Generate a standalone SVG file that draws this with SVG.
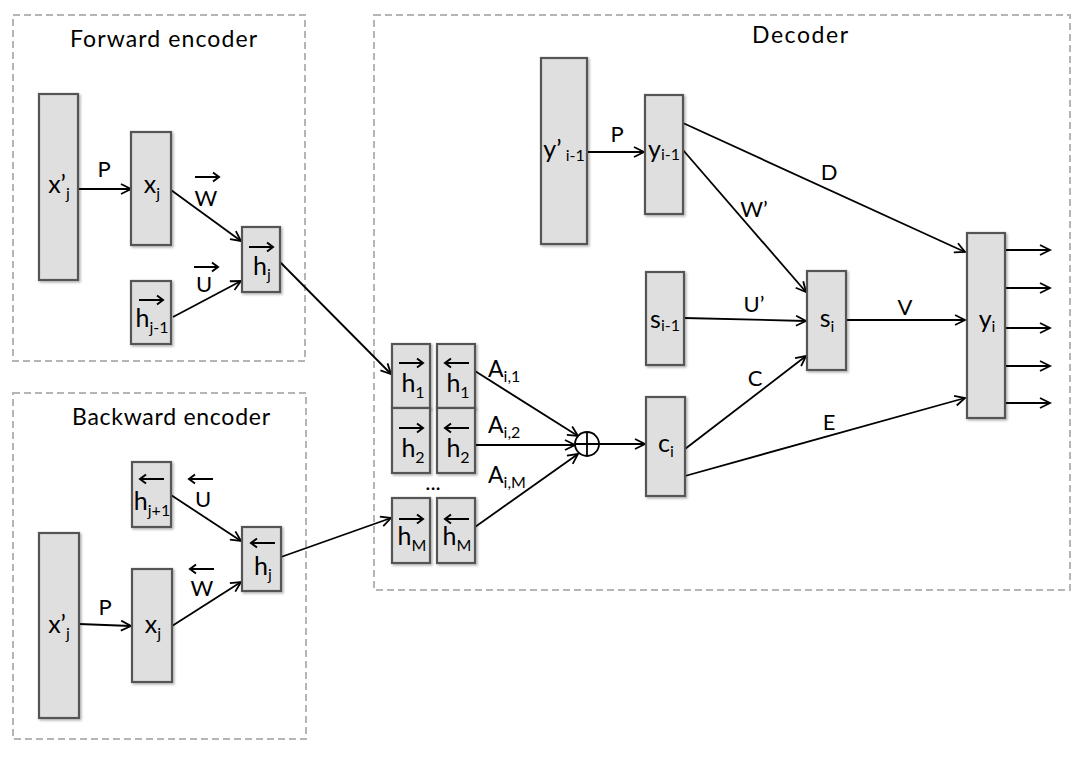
<svg xmlns="http://www.w3.org/2000/svg" width="1078" height="758" viewBox="0 0 1078 758">
<style>
.frame{fill:none;stroke:#b5b5b5;stroke-width:2;stroke-dasharray:7 4}
.box{fill:#dfdfdf;stroke:#555;stroke-width:2.2;filter:url(#sh)}
.title{font-family:Lato,"Open Sans","Liberation Sans",sans-serif;font-size:23px;fill:#000}
.lbl{font-family:Lato,"Open Sans","Liberation Sans",sans-serif;font-size:22px;fill:#000;text-anchor:middle}
.nl{font-family:Lato,"Open Sans","Liberation Sans",sans-serif;font-size:25px;fill:#000;text-anchor:middle}
.lbs{font-family:Lato,"Open Sans","Liberation Sans",sans-serif;font-size:23px;fill:#000}
.sub{font-size:16px}
.edge{fill:none;stroke:#000;stroke-width:1.8;marker-end:url(#ah)}
.plain{fill:none;stroke:#000;stroke-width:1.8}
.ov{fill:none;stroke:#000;stroke-width:2}
</style>
<defs>
<filter id="sh" x="-30%" y="-30%" width="160%" height="160%">
<feDropShadow dx="1.5" dy="1.5" stdDeviation="1.2" flood-color="#000" flood-opacity="0.3"/>
</filter>
<marker id="ah" markerUnits="userSpaceOnUse" markerWidth="14" markerHeight="14" refX="11" refY="6" orient="auto">
<path d="M1,1 L11,6 L1,11" fill="none" stroke="#000" stroke-width="1.8"/>
</marker>
<path id="ra" d="M0,0 H24 M18,-4.5 L24,0 L18,4.5" class="ov"/>
<path id="la" d="M0,0 H24 M6,-4.5 L0,0 L6,4.5" class="ov"/>
</defs>
<rect width="1078" height="758" fill="#fff"/>

<g id="forward-encoder">
<rect class="frame" x="13" y="15" width="292" height="346"/>
<text class="title" x="70" y="47" textLength="187" lengthAdjust="spacing">Forward encoder</text>
</g>
<g id="backward-encoder">
<rect class="frame" x="13" y="393" width="293" height="346"/>
<text class="title" x="72" y="425" textLength="198" lengthAdjust="spacing">Backward encoder</text>
</g>
<g id="decoder">
<rect class="frame" x="374" y="15" width="696" height="575"/>
<text class="title" x="752" y="43" textLength="96" lengthAdjust="spacing">Decoder</text>
</g>

<g id="connectors">
<line class="edge" x1="78" y1="189" x2="131" y2="189"/>
<line class="edge" x1="171" y1="190" x2="241" y2="241"/>
<line class="edge" x1="173" y1="317" x2="241" y2="281"/>
<line class="edge" x1="280" y1="262" x2="391" y2="374"/>
<line class="edge" x1="79" y1="624" x2="131" y2="626"/>
<line class="edge" x1="172" y1="626" x2="241" y2="582"/>
<line class="edge" x1="171" y1="495" x2="241" y2="541"/>
<line class="edge" x1="281" y1="557" x2="391" y2="518"/>
<line class="edge" x1="475" y1="371" x2="578" y2="436"/>
<line class="edge" x1="475" y1="445" x2="575" y2="445"/>
<line class="edge" x1="475" y1="527" x2="578" y2="454"/>
<line class="edge" x1="599" y1="444" x2="645" y2="444"/>
<line class="edge" x1="587" y1="152" x2="644" y2="152"/>
<line class="edge" x1="683" y1="123" x2="965" y2="252"/>
<line class="edge" x1="683" y1="150" x2="806" y2="292"/>
<line class="edge" x1="684" y1="318" x2="806" y2="321"/>
<line class="edge" x1="685" y1="449" x2="806" y2="356"/>
<line class="edge" x1="685" y1="476" x2="965" y2="398"/>
<line class="edge" x1="846" y1="320" x2="965" y2="320"/>
<line class="edge" x1="1005" y1="250" x2="1050" y2="250"/>
<line class="edge" x1="1005" y1="288" x2="1050" y2="288"/>
<line class="edge" x1="1005" y1="328" x2="1050" y2="328"/>
<line class="edge" x1="1005" y1="366" x2="1050" y2="366"/>
<line class="edge" x1="1005" y1="403" x2="1050" y2="403"/>
<text class="lbl" x="104" y="177">P</text>
<use href="#ra" x="195" y="177"/><text class="lbl" x="206" y="206">W</text>
<use href="#ra" x="194" y="267"/><text class="lbl" x="204" y="292">U</text>
<use href="#la" x="189" y="479"/><text class="lbl" x="203" y="507">U</text>
<use href="#la" x="190" y="569"/><text class="lbl" x="202" y="596">W</text>
<text class="lbl" x="105" y="615">P</text>
<text class="lbs" x="488" y="377">A<tspan class="sub" dy="5">i,1</tspan></text>
<text class="lbs" x="488" y="433">A<tspan class="sub" dy="5">i,2</tspan></text>
<text class="lbs" x="488" y="483">A<tspan class="sub" dy="5">i,M</tspan></text>
<text class="lbl" x="617" y="142">P</text>
<text class="lbl" x="829" y="180">D</text>
<text class="lbl" x="754" y="217">W’</text>
<text class="lbl" x="754" y="312">U’</text>
<text class="lbl" x="905" y="315">V</text>
<text class="lbl" x="755" y="386">C</text>
<text class="lbl" x="829" y="430">E</text>
</g>

<g id="fe-xprime"><rect class="box" x="39" y="94" width="39" height="186"/><text class="nl" x="59" y="193">x’<tspan class="sub" dy="6">j</tspan></text></g>
<g id="fe-x"><rect class="box" x="131" y="132" width="40" height="113"/><text class="nl" x="152" y="193">x<tspan class="sub" dy="6">j</tspan></text></g>
<g id="fe-h"><rect class="box" x="242" y="227" width="38" height="65"/><use href="#ra" x="249" y="247"/><text class="nl" x="262" y="275">h<tspan class="sub" dy="5">j</tspan></text></g>
<g id="fe-hprev"><rect class="box" x="131" y="281" width="40" height="63"/><use href="#ra" x="139" y="300"/><text class="nl" x="152" y="327">h<tspan class="sub" dy="6">j-1</tspan></text></g>

<g id="be-hnext"><rect class="box" x="132" y="462" width="39" height="65"/><use href="#la" x="140" y="479"/><text class="nl" x="152" y="510">h<tspan class="sub" dy="6">j+1</tspan></text></g>
<g id="be-h"><rect class="box" x="242" y="527" width="39" height="64"/><use href="#la" x="251" y="543"/><text class="nl" x="263" y="575">h<tspan class="sub" dy="5">j</tspan></text></g>
<g id="be-xprime"><rect class="box" x="39" y="533" width="40" height="185"/><text class="nl" x="59" y="633">x’<tspan class="sub" dy="6">j</tspan></text></g>
<g id="be-x"><rect class="box" x="132" y="569" width="40" height="113"/><text class="nl" x="153" y="633">x<tspan class="sub" dy="6">j</tspan></text></g>

<g id="h1f"><rect class="box" x="392" y="344" width="38" height="64"/><use href="#ra" x="399" y="363"/><text class="nl" x="413" y="392">h<tspan class="sub" dy="6">1</tspan></text></g>
<g id="h1b"><rect class="box" x="437" y="344" width="38" height="64"/><use href="#la" x="445" y="363"/><text class="nl" x="458" y="392">h<tspan class="sub" dy="6">1</tspan></text></g>
<g id="h2f"><rect class="box" x="392" y="408" width="38" height="65"/><use href="#ra" x="399" y="428"/><text class="nl" x="413" y="457">h<tspan class="sub" dy="6">2</tspan></text></g>
<g id="h2b"><rect class="box" x="437" y="408" width="38" height="65"/><use href="#la" x="445" y="428"/><text class="nl" x="458" y="457">h<tspan class="sub" dy="6">2</tspan></text></g>
<g id="dots"><text class="lbl" x="433" y="490">...</text></g>
<g id="hMf"><rect class="box" x="392" y="498" width="38" height="65"/><use href="#ra" x="399" y="519"/><text class="nl" x="412" y="545">h<tspan class="sub" dy="6">M</tspan></text></g>
<g id="hMb"><rect class="box" x="437" y="498" width="38" height="65"/><use href="#la" x="445" y="519"/><text class="nl" x="457" y="545">h<tspan class="sub" dy="6">M</tspan></text></g>

<g id="oplus"><circle cx="587" cy="444" r="12" fill="#fff" stroke="#000" stroke-width="1.8"/><path class="plain" d="M575,444 H599 M587,432 V456"/></g>

<g id="c"><rect class="box" x="646" y="397" width="39" height="99"/><text class="nl" x="666" y="452">c<tspan class="sub" dy="5">i</tspan></text></g>
<g id="yprime"><rect class="box" x="541" y="58" width="46" height="186"/><text class="nl" x="564" y="158">y’<tspan class="sub" dy="3"> i-1</tspan></text></g>
<g id="yprev"><rect class="box" x="645" y="95" width="38" height="119"/><text class="nl" x="664" y="158">y<tspan class="sub" dy="2">i-1</tspan></text></g>
<g id="sprev"><rect class="box" x="646" y="272" width="38" height="93"/><text class="nl" x="665" y="328">s<tspan class="sub" dy="3">i-1</tspan></text></g>
<g id="s"><rect class="box" x="807" y="271" width="39" height="99"/><text class="nl" x="827" y="327">s<tspan class="sub" dy="5">i</tspan></text></g>
<g id="y"><rect class="box" x="967" y="233" width="38" height="185"/><text class="nl" x="987" y="328">y<tspan class="sub" dy="4">i</tspan></text></g>
</svg>
